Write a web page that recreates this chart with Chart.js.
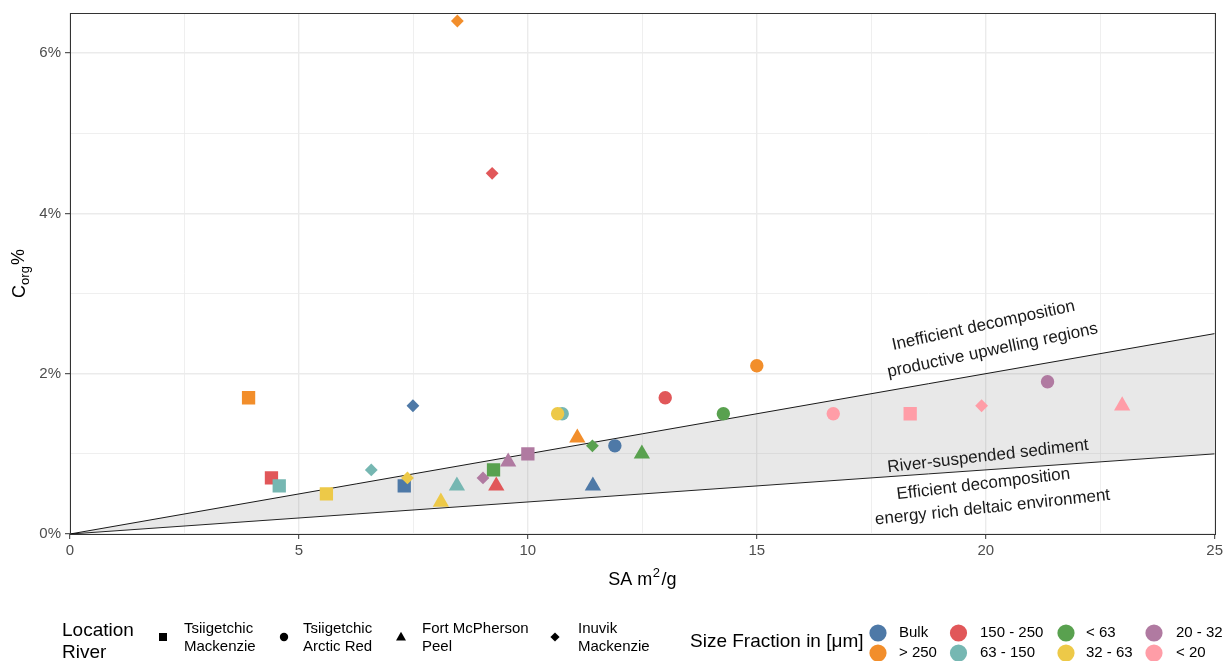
<!DOCTYPE html>
<html>
<head>
<meta charset="utf-8">
<script src="https://cdn.jsdelivr.net/npm/chart.js@4/dist/chart.umd.min.js"></script>
<style>
  html, body { margin: 0; padding: 0; background: #ffffff; }
  #wrap { width: 1226px; height: 661px; position: relative; }
</style>
</head>
<body>
<div id="wrap"><canvas id="c" width="1226" height="661"></canvas></div>
<script>
// Size fractions (legend order) and their colours
const fractions = ['Bulk', '> 250', '150 - 250', '63 - 150', '< 63', '32 - 63', '20 - 32', '< 20'];
const fractionColors = ['#4E79A7', '#F28E2B', '#E15759', '#76B7B2', '#59A14F', '#EDC948', '#B07AA1', '#FF9DA7'];

// Sampling locations (label lines) and their marker shapes
const locationLabels = [['Tsiigetchic', 'Mackenzie'], ['Tsiigetchic', 'Arctic Red'], ['Fort McPherson', 'Peel'], ['Inuvik', 'Mackenzie']];
const locationShapes = ['rect', 'circle', 'triangle', 'rectRot'];

// Surface area (m²/g) and organic carbon (%) per fraction, in the fraction order above
const saTsiigetchicMackenzie   = [7.3, 3.9, 4.4, 4.57, 9.25, 5.6, 10.0, 18.35];
const corgTsiigetchicMackenzie = [0.6, 1.7, 0.7, 0.6, 0.8, 0.5, 1.0, 1.5];

const saTsiigetchicArcticRed   = [11.9, 15.0, 13.0, 10.75, 14.27, 10.65, 21.35, 16.67];
const corgTsiigetchicArcticRed = [1.1, 2.1, 1.7, 1.5, 1.5, 1.5, 1.9, 1.5];

const saFortMcPhersonPeel   = [11.42, 11.08, 9.31, 8.45, 12.49, 8.1, 9.57, 22.98];
const corgFortMcPhersonPeel = [0.6, 1.2, 0.6, 0.6, 1.0, 0.4, 0.9, 1.6];

const saInuvikMackenzie   = [7.49, 8.46, 9.22, 6.58, 11.41, 7.37, 9.02, 19.91];
const corgInuvikMackenzie = [1.6, 6.4, 4.5, 0.8, 1.1, 0.7, 0.7, 1.6];

// River-suspended sediment band: loading lines through the origin
const bandSA = [0, 25];
const bandUpperCorg = [0, 2.5];
const bandLowerCorg = [0, 1.0];

// Axis ticks
const xTickValues = [0, 5, 10, 15, 20, 25];
const yTickValues = [0, 2, 4, 6];

// Region notes
const noteLines = ['Inefficient decomposition', 'productive upwelling regions', 'River-suspended sediment', 'Efficient decomposition', 'energy rich deltaic environment'];

const seriesSA = [saTsiigetchicMackenzie, saTsiigetchicArcticRed, saFortMcPhersonPeel, saInuvikMackenzie];
const seriesCorg = [corgTsiigetchicMackenzie, corgTsiigetchicArcticRed, corgFortMcPhersonPeel, corgInuvikMackenzie];

// ---- styling ----
const FONT = "'Liberation Sans', Arial, Helvetica, sans-serif";
const markerRadius = { rect: 9.4, circle: 6.7, triangle: 9.4, rectRot: 6.4 };
const noteAnchors = [[19.95, 2.6], [20.15, 2.29], [20.05, 0.97], [19.95, 0.62], [20.15, 0.33]];
const noteAngles = [-12.2, -11.8, -6.4, -6.8, -6.0];

Chart.defaults.font.family = FONT;

function toPoints(xs, ys) { return xs.map((x, i) => ({ x: x, y: ys[i] })); }

const bandDatasets = [
  {
    type: 'line', label: 'lower', data: toPoints(bandSA, bandLowerCorg),
    borderColor: '#000000', borderWidth: 0.9, pointRadius: 0, fill: false, order: 20, tension: 0
  },
  {
    type: 'line', label: 'upper', data: toPoints(bandSA, bandUpperCorg),
    borderColor: '#000000', borderWidth: 0.9, pointRadius: 0, tension: 0,
    fill: '-1', backgroundColor: 'rgba(127,127,127,0.18)', order: 19
  }
];

const pointDatasets = seriesSA.map((xs, i) => ({
  type: 'scatter',
  label: locationLabels[i].join(' '),
  data: toPoints(xs, seriesCorg[i]),
  pointStyle: locationShapes[i],
  pointRadius: markerRadius[locationShapes[i]],
  backgroundColor: fractionColors,
  pointBackgroundColor: fractionColors,
  borderWidth: 0,
  pointBorderWidth: 0,
  order: 4 - i
}));

function isMajorX(v) { return Math.abs(v % 5) < 1e-9; }
function isMajorY(v) { return Math.abs(v % 2) < 1e-9; }

function legendShape(ctx, shape, x, y) {
  ctx.beginPath();
  if (shape === 'rect') {
    ctx.rect(x - 4, y - 4, 8, 8);
  } else if (shape === 'circle') {
    ctx.arc(x, y, 4.2, 0, Math.PI * 2);
  } else if (shape === 'triangle') {
    ctx.moveTo(x, y - 5.2);
    ctx.lineTo(x + 5, y + 3.6);
    ctx.lineTo(x - 5, y + 3.6);
    ctx.closePath();
  } else {
    ctx.moveTo(x, y - 4.6);
    ctx.lineTo(x + 4.6, y);
    ctx.lineTo(x, y + 4.6);
    ctx.lineTo(x - 4.6, y);
    ctx.closePath();
  }
  ctx.fill();
}

const decorations = {
  id: 'decorations',
  afterDatasetsDraw(chart) {
    const ctx = chart.ctx;
    const xs = chart.scales.x, ys = chart.scales.y;
    ctx.save();
    ctx.fillStyle = '#1a1a1a';
    ctx.font = '17px ' + FONT;
    ctx.textAlign = 'center';
    ctx.textBaseline = 'middle';
    noteLines.forEach((t, i) => {
      const px = xs.getPixelForValue(noteAnchors[i][0]);
      const py = ys.getPixelForValue(noteAnchors[i][1]);
      ctx.save();
      ctx.translate(px, py);
      ctx.rotate(noteAngles[i] * Math.PI / 180);
      ctx.fillText(t, 0, 0);
      ctx.restore();
    });
    ctx.restore();
  },
  afterDraw(chart) {
    const ctx = chart.ctx;
    const a = chart.chartArea;
    ctx.save();
    // panel border
    ctx.strokeStyle = '#333333';
    ctx.lineWidth = 1;
    ctx.strokeRect(Math.round(a.left) + 0.5, Math.round(a.top) + 0.5, Math.round(a.right - a.left), Math.round(a.bottom - a.top));

    // x axis title: SA m^2/g
    ctx.fillStyle = '#000000';
    ctx.textBaseline = 'alphabetic';
    ctx.textAlign = 'left';
    const big = '18px ' + FONT, small = '13px ' + FONT;
    ctx.font = big; const w1 = ctx.measureText('SA m').width;
    ctx.font = small; const w2 = ctx.measureText('2').width;
    ctx.font = big; const w3 = ctx.measureText('/g').width;
    const gap = 2;
    const total = w1 + w2 + gap + w3;
    let x0 = (a.left + a.right) / 2 - total / 2;
    const base = 585;
    ctx.font = big; ctx.fillText('SA m', x0, base);
    ctx.font = small; ctx.fillText('2', x0 + w1 + 0.5, base - 8);
    ctx.font = big; ctx.fillText('/g', x0 + w1 + w2 + gap, base);

    // y axis title: C_org %
    ctx.save();
    ctx.translate(25, (a.top + a.bottom) / 2);
    ctx.rotate(-Math.PI / 2);
    ctx.font = big; const c1 = ctx.measureText('C').width;
    ctx.font = small; const c2 = ctx.measureText('org').width;
    ctx.font = big; const c3 = ctx.measureText('%').width;
    const ctotal = c1 + c2 + 1 + c3;
    let yx = -ctotal / 2;
    ctx.font = big; ctx.fillText('C', yx, 0);
    ctx.font = small; ctx.fillText('org', yx + c1, 4);
    ctx.font = big; ctx.fillText('%', yx + c1 + c2 + 1, -1);
    ctx.restore();

    // Location legend
    ctx.font = '19px ' + FONT;
    ctx.textBaseline = 'middle';
    ctx.fillText('Location', 62, 631);
    ctx.fillText('River', 62, 653);
    const locMarkerX = [163, 284, 401, 555];
    const locTextX = [184, 303, 422, 578];
    ctx.font = '15px ' + FONT;
    locationLabels.forEach((lines, i) => {
      ctx.fillStyle = '#000000';
      legendShape(ctx, locationShapes[i], locMarkerX[i], 637);
      ctx.fillText(lines[0], locTextX[i], 629);
      ctx.fillText(lines[1], locTextX[i], 647);
    });

    // Size fraction legend
    ctx.font = '19px ' + FONT;
    ctx.fillText('Size Fraction in [\u03BCm]', 690, 642);
    const colX = [878, 958.5, 1066, 1154];
    const labX = [899, 980, 1086, 1176];
    const rowY = [633, 653];
    ctx.font = '15px ' + FONT;
    fractions.forEach((f, i) => {
      const col = Math.floor(i / 2), row = i % 2;
      ctx.fillStyle = fractionColors[i];
      ctx.beginPath();
      ctx.arc(colX[col], rowY[row], 8.6, 0, Math.PI * 2);
      ctx.fill();
      ctx.fillStyle = '#000000';
      ctx.fillText(f, labX[col], rowY[row]);
    });
    ctx.restore();
  }
};

new Chart(document.getElementById('c'), {
  type: 'scatter',
  data: { datasets: bandDatasets.concat(pointDatasets) },
  options: {
    responsive: false,
    animation: false,
    events: [],
    devicePixelRatio: 1,
    layout: { padding: { top: 13, right: 11, bottom: 97, left: 0 } },
    plugins: { legend: { display: false }, tooltip: { enabled: false } },
    scales: {
      x: {
        type: 'linear', min: 0, max: 25,
        afterFit(scale) { scale.height = 30; },
        border: { display: false },
        grid: {
          color: '#EBEBEB',
          lineWidth: c => (c.tick && isMajorX(c.tick.value)) ? 1.4 : 0.8,
          drawTicks: true, tickLength: 5, tickWidth: 1,
          tickColor: c => (c.tick && isMajorX(c.tick.value)) ? '#333333' : 'rgba(0,0,0,0)'
        },
        ticks: {
          stepSize: 2.5, autoSkip: false, maxRotation: 0, includeBounds: false,
          color: '#4D4D4D', font: { size: 15 }, padding: 3,
          callback: v => xTickValues.includes(v) ? String(v) : ''
        }
      },
      y: {
        type: 'linear', min: 0, max: 6.5,
        afterFit(scale) { scale.width = 70; },
        border: { display: false },
        grid: {
          color: '#EBEBEB',
          lineWidth: c => (c.tick && isMajorY(c.tick.value)) ? 1.4 : 0.8,
          drawTicks: true, tickLength: 5, tickWidth: 1,
          tickColor: c => (c.tick && isMajorY(c.tick.value)) ? '#333333' : 'rgba(0,0,0,0)'
        },
        ticks: {
          stepSize: 1, autoSkip: false, includeBounds: false,
          color: '#4D4D4D', font: { size: 15 }, padding: 4,
          callback: v => yTickValues.includes(v) ? v + '%' : ''
        }
      }
    }
  },
  plugins: [decorations]
});
</script>
</body>
</html>
